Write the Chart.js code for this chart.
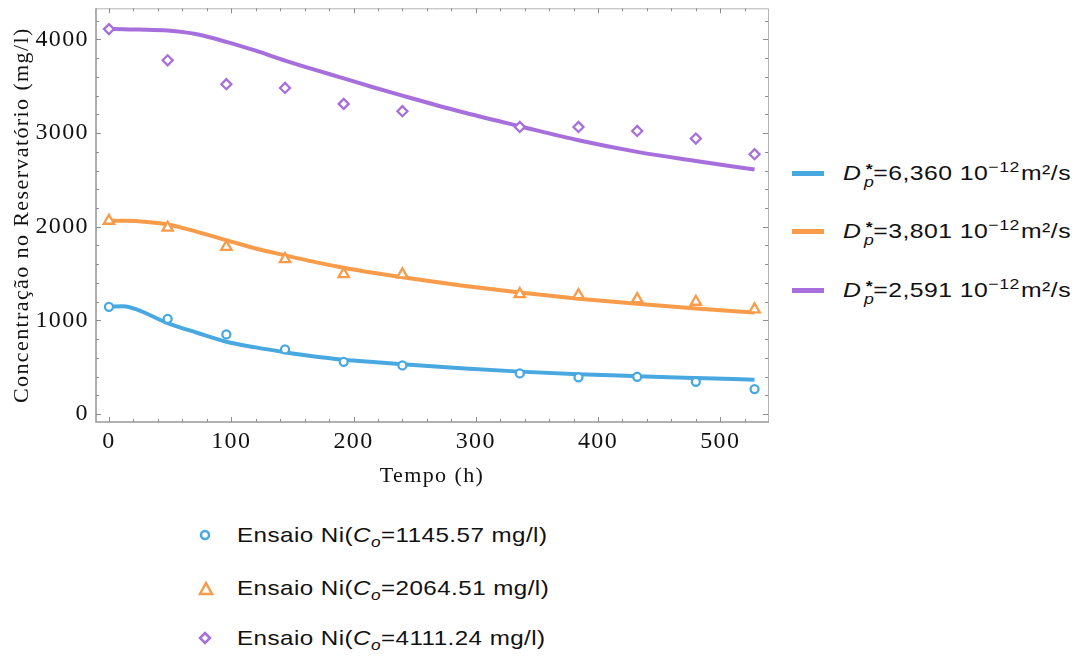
<!DOCTYPE html>
<html lang="pt">
<head>
<meta charset="utf-8">
<title>Concentração no Reservatório</title>
<script src="https://cdn.jsdelivr.net/npm/chart.js@4.4.1/dist/chart.umd.min.js"></script>
<style>
  body { margin: 0; background: #fff; width: 1083px; height: 657px; overflow: hidden; position: relative;
         font-family: "Liberation Sans", Arial, sans-serif; color: #111; }
  #wrap { position: absolute; left: 0; top: 0; width: 790px; height: 489px; }
  .leg { position: absolute; font-size: 21px; white-space: nowrap; line-height: 24px; height: 24px; }
  .txt { display: inline-block; transform: scaleX(1.15); transform-origin: left center; letter-spacing: 0.4px; }
  .dir .txt { transform: scaleX(1.18); }
  .sw { position: absolute; left: 0; top: 10px; width: 32px; height: 5px; }
  .dp { position: relative; display: inline-block; padding-right: 10px; }
  .st { position: absolute; right: 0; top: -4px; font-size: 15px; font-weight: bold; }
  .pp { position: absolute; right: -1px; top: 9px; font-size: 15px; font-style: italic; }
  .sup { font-size: 15px; position: relative; top: -8px; margin-right: 1px; }
  .sub { font-size: 15px; position: relative; top: 5px; font-style: italic; }
  .mk { position: absolute; left: 0; top: 5px; }
</style>
</head>
<body>
<div id="wrap"><canvas id="grafico" width="790" height="489"></canvas></div>

<div class="leg dir" style="left:792px; top:161px;"><span class="sw" style="background:#4aa8e0"></span>
  <span class="txt" style="margin-left:51px"><span class="dp"><i>D</i><span class="st">*</span><span class="pp">p</span></span>=6,360 10<span class="sup">−12</span>m²/s</span></div>
<div class="leg dir" style="left:792px; top:219px;"><span class="sw" style="background:#f89c4c"></span>
  <span class="txt" style="margin-left:51px"><span class="dp"><i>D</i><span class="st">*</span><span class="pp">p</span></span>=3,801 10<span class="sup">−12</span>m²/s</span></div>
<div class="leg dir" style="left:792px; top:278px;"><span class="sw" style="background:#a66fdc"></span>
  <span class="txt" style="margin-left:51px"><span class="dp"><i>D</i><span class="st">*</span><span class="pp">p</span></span>=2,591 10<span class="sup">−12</span>m²/s</span></div>

<div class="leg" style="left:198px; top:523px;">
  <svg class="mk" width="14" height="14"><circle cx="7" cy="7" r="4" fill="#fff" stroke="#4aa8e0" stroke-width="2.5"/></svg>
  <span class="txt" style="margin-left:39px">Ensaio Ni(<i>C</i><span class="sub">o</span>=1145.57 mg/l)</span></div>
<div class="leg" style="left:198px; top:576px;">
  <svg class="mk" width="16" height="16"><polygon points="8,2 14,13 2,13" fill="#fff" stroke="#f89c4c" stroke-width="2.5"/></svg>
  <span class="txt" style="margin-left:39px">Ensaio Ni(<i>C</i><span class="sub">o</span>=2064.51 mg/l)</span></div>
<div class="leg" style="left:198px; top:626px;">
  <svg class="mk" width="16" height="16"><polygon points="7,2 12,7 7,12 2,7" fill="#fff" stroke="#a66fdc" stroke-width="2.5"/></svg>
  <span class="txt" style="margin-left:39px">Ensaio Ni(<i>C</i><span class="sub">o</span>=4111.24 mg/l)</span></div>

<script>
// curvas do modelo
const tempoCurva = [0, 12, 24, 48, 72, 96, 120, 144, 168, 192, 216, 240, 288, 336, 384, 432, 480, 528];
const curva6360 = [1145, 1152, 1110, 971, 868, 772, 712, 660, 614, 580, 555, 532, 490, 453, 425, 404, 385, 367];
const curva3801 = [2064, 2064, 2060, 2025, 1946, 1857, 1768, 1695, 1625, 1562, 1508, 1460, 1373, 1297, 1232, 1177, 1128, 1084];
const curva2591 = [4111, 4110, 4106, 4095, 4055, 3975, 3880, 3775, 3678, 3585, 3490, 3400, 3228, 3074, 2924, 2800, 2703, 2611];

// pontos experimentais
const tempoEnsaio = [0, 48, 96, 144, 192, 240, 336, 384, 432, 480, 528];
const ensaio1145 = [1145, 1017, 850, 690, 558, 519, 434, 392, 398, 345, 267];
const ensaio2064 = [2064, 1990, 1786, 1654, 1494, 1491, 1281, 1270, 1227, 1199, 1118];
const ensaio4111 = [4111, 3778, 3522, 3482, 3312, 3234, 3066, 3066, 3023, 2942, 2775];

const xTicks = [0, 100, 200, 300, 400, 500];
const yTicks = [0, 1000, 2000, 3000, 4000];

const azul = '#4aa8e0', laranja = '#f89c4c', roxo = '#a66fdc';

function pares(xs, ys) {
    return xs.map((x, i) => ({x: x, y: ys[i]}));
}

function curva(dados, cor) {
    return {type: 'line', data: pares(tempoCurva, dados), borderColor: cor, borderWidth: 4,
        pointRadius: 0, cubicInterpolationMode: 'monotone', fill: false, order: 2};
}

function ensaio(dados, cor, forma, raio) {
    return {type: 'scatter', data: pares(tempoEnsaio, dados), borderColor: cor, backgroundColor: '#fff',
        pointStyle: forma, pointRadius: raio, pointBorderWidth: 2.3, showLine: false, order: 1};
}

// moldura com marcas para dentro, como no Mathematica
const moldura = {
    id: 'moldura',
    beforeDraw(chart) {
        // texto do Mathematica e mais espacado
        chart.ctx.letterSpacing = '1.4px';
    },
    beforeDatasetsDraw(chart) {
        const {ctx, chartArea: a, scales: {x, y}} = chart;
        ctx.save();
        ctx.strokeStyle = '#b4b4b4';
        ctx.lineWidth = 1;
        ctx.beginPath();
        ctx.moveTo(a.left, a.top + 0.5); ctx.lineTo(a.right + 0.5, a.top + 0.5); ctx.lineTo(a.right + 0.5, a.bottom);
        ctx.stroke();
        ctx.strokeStyle = '#999';
        ctx.lineWidth = 1.6;
        ctx.beginPath();
        ctx.moveTo(a.left, a.top); ctx.lineTo(a.left, a.bottom); ctx.lineTo(a.right + 1, a.bottom);
        ctx.stroke();
        ctx.strokeStyle = '#8c8c8c';
        ctx.lineWidth = 1;
        ctx.beginPath();
        for (let v = 0; v <= x.max; v += 20) {
            const px = Math.round(x.getPixelForValue(v)) + 0.5;
            const len = v % 100 === 0 ? 5 : 3;
            ctx.moveTo(px, a.bottom); ctx.lineTo(px, a.bottom - len);
            ctx.moveTo(px, a.top); ctx.lineTo(px, a.top + len);
        }
        for (let v = 0; v <= y.max; v += 200) {
            const py = Math.round(y.getPixelForValue(v)) + 0.5;
            const len = v % 1000 === 0 ? 5 : 3;
            ctx.moveTo(a.left, py); ctx.lineTo(a.left + len, py);
            ctx.moveTo(a.right, py); ctx.lineTo(a.right - len, py);
        }
        ctx.stroke();
        ctx.restore();
    }
};

const serif = '"Liberation Serif", "Times New Roman", serif';

new Chart(document.getElementById('grafico'), {
    data: {
        datasets: [
            ensaio(ensaio1145, azul, 'circle', 4),
            ensaio(ensaio2064, laranja, 'triangle', 6),
            ensaio(ensaio4111, roxo, 'rectRot', 5),
            curva(curva6360, azul),
            curva(curva3801, laranja),
            curva(curva2591, roxo)
        ]
    },
    options: {
        responsive: false,
        animation: false,
        devicePixelRatio: 1,
        layout: {padding: {top: 8, right: 22, left: 0, bottom: 0}},
        plugins: {legend: {display: false}, tooltip: {enabled: false}},
        scales: {
            x: {
                type: 'linear', min: -10.6, max: 539,
                afterBuildTicks: s => { s.ticks = xTicks.map(v => ({value: v})); },
                afterFit: s => { s.height = 67; s.paddingLeft = 0; s.paddingRight = 0; },
                grid: {display: false}, border: {display: false},
                ticks: {color: '#111', font: {family: serif, size: 24}, padding: -3, maxRotation: 0,
                    callback: v => String(v)},
                title: {display: true, text: 'Tempo (h)', color: '#111', padding: 0,
                    font: {family: serif, size: 22}}
            },
            y: {
                type: 'linear', min: -85, max: 4333,
                afterBuildTicks: s => { s.ticks = yTicks.map(v => ({value: v})); },
                afterFit: s => { s.width = 96; s.paddingTop = 0; s.paddingBottom = 0; },
                grid: {display: false}, border: {display: false},
                ticks: {color: '#111', font: {family: serif, size: 24}, padding: -1,
                    callback: v => String(v)},
                title: {display: true, text: 'Concentração no Reservatório (mg/l)', color: '#111',
                    padding: {top: 9, bottom: 0}, font: {family: serif, size: 22}}
            }
        }
    },
    plugins: [moldura]
});
</script>
</body>
</html>
